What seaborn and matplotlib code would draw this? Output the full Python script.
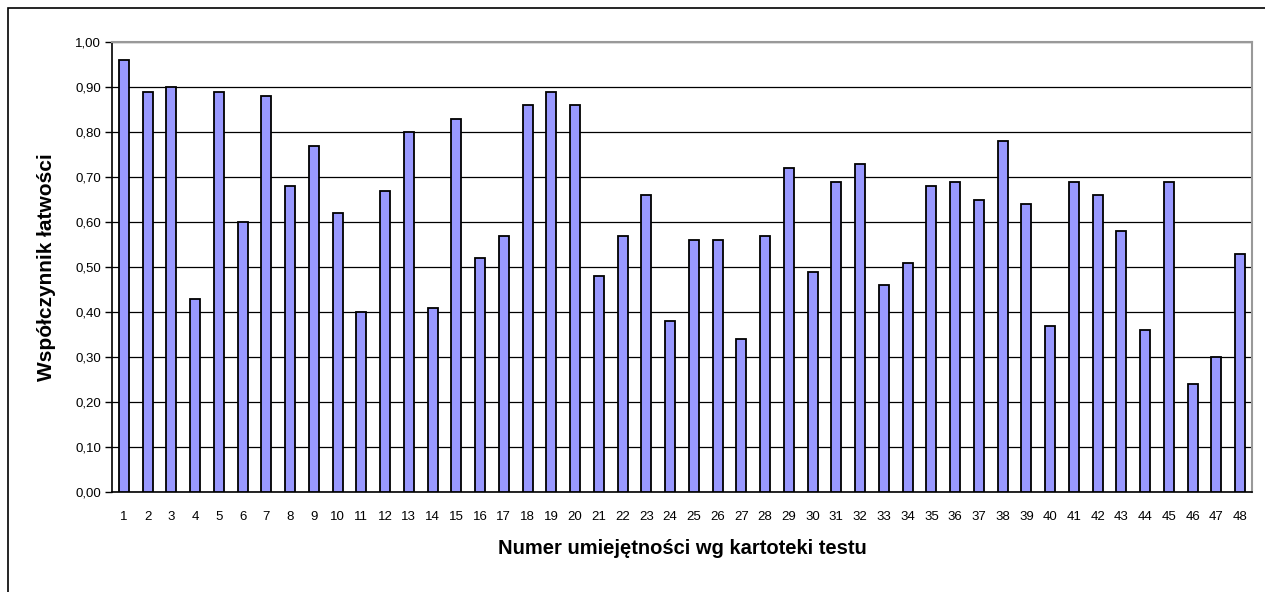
import matplotlib
matplotlib.use("Agg")
import matplotlib.pyplot as plt
import seaborn as sns
import pandas as pd
from matplotlib.ticker import FuncFormatter, FixedLocator
from matplotlib.patches import Rectangle

skills = [str(i) for i in range(1, 49)]
easiness = [0.96, 0.89, 0.90, 0.43, 0.89, 0.60, 0.88, 0.68, 0.77, 0.62,
            0.40, 0.67, 0.80, 0.41, 0.83, 0.52, 0.57, 0.86, 0.89, 0.86,
            0.48, 0.57, 0.66, 0.38, 0.56, 0.56, 0.34, 0.57, 0.72, 0.49,
            0.69, 0.73, 0.46, 0.51, 0.68, 0.69, 0.65, 0.78, 0.64, 0.37,
            0.69, 0.66, 0.58, 0.36, 0.69, 0.24, 0.30, 0.53]
y_ticks = [i / 10 for i in range(11)]

df = pd.DataFrame({"skill": skills, "value": easiness})

sns.set_style("white")
plt.rcParams['font.family'] = ['Liberation Sans', 'DejaVu Sans']
plt.rcParams['text.color'] = 'black'
plt.rcParams['axes.labelcolor'] = 'black'

fig = plt.figure(figsize=(12.65, 5.92), dpi=100)
ax = fig.add_axes([112 / 1265, 100 / 592, 1140 / 1265, 450 / 592])

sns.barplot(data=df, x="skill", y="value", color="#9999FF", saturation=1,
            edgecolor="black", linewidth=1.3, width=0.42, ax=ax, zorder=3)

ax.set_ylim(0, 1.0)
ax.set_xlim(-0.5, len(skills) - 0.5)
ax.yaxis.set_major_locator(FixedLocator(y_ticks))
ax.yaxis.set_major_formatter(FuncFormatter(lambda v, p: f"{v:.2f}".replace('.', ',')))
ax.yaxis.grid(True, color="black", linewidth=0.9, zorder=0)
ax.set_axisbelow(True)

# tick marks between categories, labels centred under bars
ax.set_xticks([i + 0.5 for i in range(len(skills))], minor=True)
ax.tick_params(axis='x', which='major', length=0, pad=14, labelsize=9.5, labelcolor='black')
ax.tick_params(axis='x', which='minor', length=5, width=1, color='black', direction='out')
ax.tick_params(axis='y', which='major', length=5, width=1, color='black', direction='out',
               left=True, labelsize=9.5, pad=3, labelcolor='black')

for side in ['left', 'bottom']:
    ax.spines[side].set_color('black')
    ax.spines[side].set_linewidth(1.2)
for side in ['top', 'right']:
    ax.spines[side].set_color('#999999')
    ax.spines[side].set_linewidth(1.5)

ax.set_xlabel("Numer umiejętności wg kartoteki testu", fontsize=14.5, fontweight='bold',
              va='center', color='black')
ax.xaxis.set_label_coords(0.5, (492 - 549) / 450)
ax.set_ylabel("Współczynnik łatwości", fontsize=15, fontweight='bold', va='center', color='black')
ax.yaxis.set_label_coords((47 - 112) / 1140, 0.5)

fig.patches.append(Rectangle((8 / 1265, -0.1), 1.2, (592 - 8) / 592 + 0.1,
                             transform=fig.transFigure, fill=False,
                             edgecolor='black', linewidth=1.2))

fig.savefig("out.png", dpi=100)
